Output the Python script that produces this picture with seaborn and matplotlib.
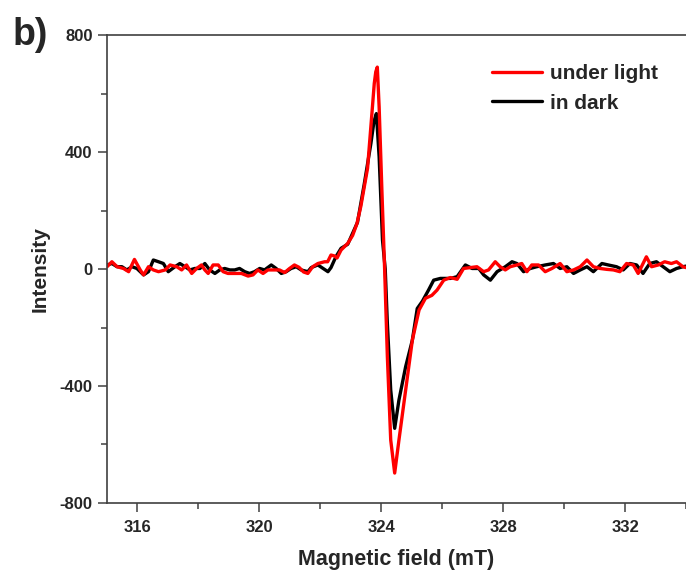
import matplotlib
matplotlib.use("Agg")
import matplotlib.pyplot as plt
import seaborn as sns
import pandas as pd
from matplotlib.ticker import MultipleLocator
from matplotlib.lines import Line2D

# Magnetic field (mT) and intensity
x_light = [315.0, 315.16, 315.33, 315.54, 315.71, 315.90, 316.09, 316.20, 316.36, 316.52,
           316.69, 316.91, 317.07, 317.29, 317.45, 317.61, 317.78, 317.94, 318.10, 318.21,
           318.32, 318.48, 318.65, 318.81, 318.97, 319.14, 319.41, 319.63, 319.79, 319.95,
           320.12, 320.28, 320.50, 320.66, 320.83, 320.99, 321.15, 321.30, 321.45, 321.59,
           321.75, 321.92, 322.14, 322.24, 322.35, 322.46, 322.55, 322.68, 322.90, 323.06,
           323.20, 323.33, 323.55, 323.71, 323.77, 323.82, 323.87, 323.93, 324.02, 324.11,
           324.20, 324.31, 324.44, 324.58, 324.80, 325.02, 325.24, 325.45, 325.66, 325.83,
           326.05, 326.27, 326.49, 326.70, 326.92, 327.14, 327.36, 327.52, 327.74, 327.90,
           328.07, 328.23, 328.45, 328.61, 328.78, 328.94, 329.16, 329.38, 329.60, 329.87,
           330.09, 330.31, 330.53, 330.75, 330.96, 331.18, 331.40, 331.62, 331.83, 332.05,
           332.27, 332.43, 332.70, 332.87, 333.09, 333.30, 333.52, 333.69, 333.90, 334.0]
y_light = [8, 25, 8, 2, -9, 33, -3, -20, 8, -3,
           -9, -3, 14, 8, -3, 14, -15, 2, 14, -3,
           -15, 14, 14, -9, -15, -15, -15, -24, -20, -3,
           -15, -3, -3, -3, -12, 2, 14, 6, -10, -15,
           8, 19, 25, 25, 48, 45, 38, 65, 88, 115,
           155, 215, 345, 555, 635, 675, 691, 555, 270, 0,
           -300, -585, -698, -585, -414, -243, -140, -100, -90, -72,
           -38, -29, -35, 2, 5, 8, -9, -3, 25, 8,
           -3, 8, 14, 19, -9, 14, 14, -9, 2, 19,
           -9, -3, 8, 31, 8, 2, -1, -3, -9, 19,
           14, -15, 42, 8, 14, 25, 19, 25, 8, 5]

x_dark = [315.0, 315.16, 315.33, 315.49, 315.65, 315.82, 315.98, 316.20, 316.36, 316.52,
          316.69, 316.85, 317.01, 317.23, 317.39, 317.56, 317.72, 317.88, 318.05, 318.21,
          318.37, 318.54, 318.70, 318.86, 319.03, 319.19, 319.35, 319.52, 319.68, 319.84,
          320.01, 320.17, 320.39, 320.55, 320.72, 320.88, 321.04, 321.21, 321.37, 321.59,
          321.70, 321.92, 322.25, 322.35, 322.51, 322.68, 322.90, 323.22, 323.44, 323.66,
          323.76, 323.84, 323.93, 324.04, 324.13, 324.20, 324.31, 324.44, 324.58, 324.80,
          325.02, 325.18, 325.35, 325.55, 325.72, 325.94, 326.27, 326.49, 326.76, 326.98,
          327.20, 327.36, 327.58, 327.80, 328.07, 328.29, 328.45, 328.67, 328.89, 329.10,
          329.38, 329.65, 329.87, 330.09, 330.31, 330.53, 330.75, 330.96, 331.24, 331.45,
          331.72, 331.94, 332.16, 332.38, 332.59, 332.81, 333.03, 333.25, 333.47, 333.69,
          333.90, 334.0]
y_dark = [14, 19, 8, 8, -3, 8, 2, -20, -9, 31,
          25, 19, -9, 8, 19, 8, -3, 2, 2, 19,
          -3, -15, -3, 2, -3, -3, 2, -9, -15, -9,
          2, -3, 14, 2, -15, -9, 2, 8, -3, -9,
          5, 14, -9, 5, 42, 71, 85, 160, 290, 430,
          505, 532, 384, 99, 0, -186, -414, -545, -448, -334,
          -243, -135, -110, -72, -38, -32, -32, -26, 14, 2,
          2, -20, -38, -9, 8, 25, 19, -9, 2, 8,
          14, 19, 2, 8, -15, -3, 8, -9, 19, 14,
          8, -3, 19, 14, -15, 19, 25, 8, -9, 2,
          8, 10]

labels = ["under light", "in dark"]
colors = ["#ff0000", "#000000"]
x_ticks = [316, 320, 324, 328, 332]
y_ticks = [-800, -400, 0, 400, 800]

df_light = pd.DataFrame({"field": x_light, "intensity": y_light})
df_dark = pd.DataFrame({"field": x_dark, "intensity": y_dark})

sns.set_style("white")
plt.rcParams["font.family"] = ["Liberation Sans", "DejaVu Sans"]
plt.rcParams["axes.unicode_minus"] = False

fig = plt.figure(figsize=(6.86, 5.78), dpi=100)
ax = fig.add_axes([0.156, 0.130, 0.844, 0.809])

line_kw = dict(lw=2.4, solid_joinstyle="round", solid_capstyle="round")
sns.lineplot(data=df_dark, x="field", y="intensity", color=colors[1], ax=ax,
             sort=False, estimator=None, **line_kw)
sns.lineplot(data=df_light, x="field", y="intensity", color=colors[0], ax=ax,
             sort=False, estimator=None, **line_kw)

ax.set_xlim(315, 334)
ax.set_ylim(-800, 800)
ax.set_xticks(x_ticks)
ax.set_yticks(y_ticks)
ax.xaxis.set_minor_locator(MultipleLocator(2))
ax.yaxis.set_minor_locator(MultipleLocator(200))
ax.tick_params(which="major", direction="out", length=6.8, width=1.1, color="#404040",
               labelsize=12, bottom=True, left=True)
ax.tick_params(axis="x", which="major", pad=5.5)
ax.tick_params(which="minor", direction="out", length=4, width=1.1, color="#404040",
               bottom=True, left=True)
for lab in ax.get_xticklabels() + ax.get_yticklabels():
    lab.set_fontweight("bold")
for side in ["left", "bottom", "top"]:
    ax.spines[side].set_color("#404040")
    ax.spines[side].set_linewidth(1.2)
ax.spines["right"].set_visible(False)

ax.set_xlabel("Magnetic field (mT)", fontsize=15.5, fontweight="bold", labelpad=10)
ax.set_ylabel("Intensity", fontsize=15, fontweight="bold", labelpad=7)

handles = [Line2D([], [], color=c, lw=2.4) for c in colors]
ax.legend(handles, labels, loc="upper left", bbox_to_anchor=(0.665, 0.938),
          frameon=False, borderpad=0, borderaxespad=0, handlelength=2.4,
          handletextpad=0.38, labelspacing=0.5,
          prop={"weight": "bold", "size": 15})

fig.text(0.018, 0.94, "b)", fontsize=27, fontweight="bold", va="center", ha="left")

fig.savefig("out.png", dpi=100)
